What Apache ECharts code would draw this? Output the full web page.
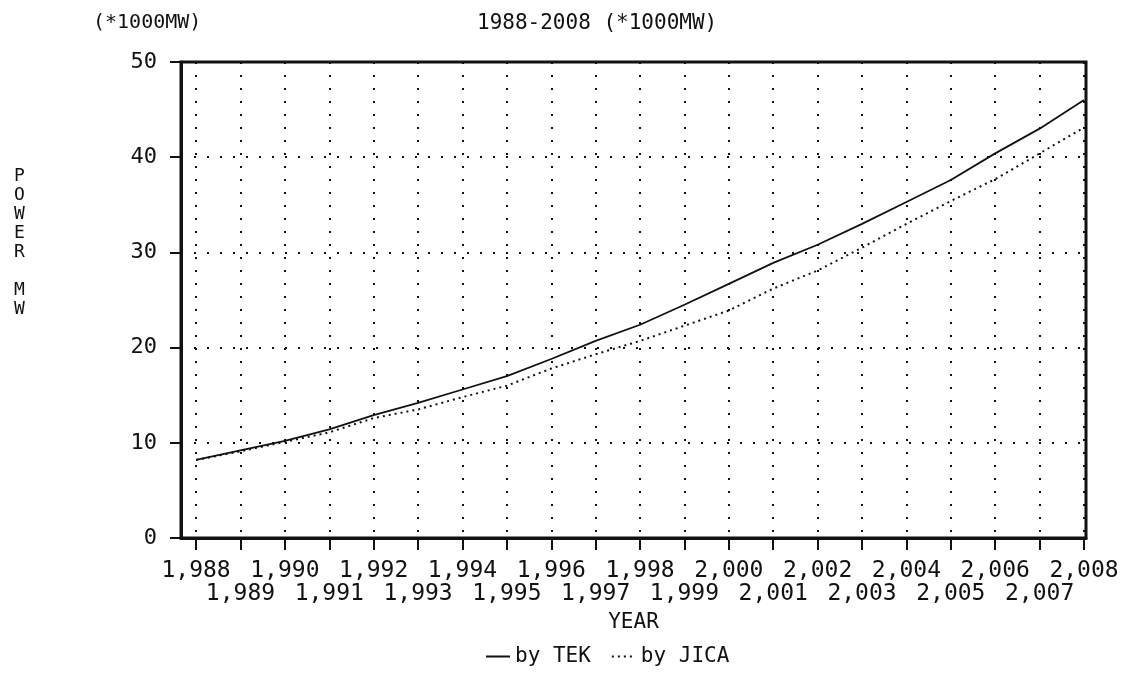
<!DOCTYPE html>
<html>
<head>
<meta charset="utf-8">
<script src="https://cdn.jsdelivr.net/npm/echarts@6/dist/echarts.min.js"></script>
<style>
  html, body { margin: 0; padding: 0; background: #fff; }
  #c { width: 1123px; height: 680px; }
</style>
</head>
<body>
<div id="c"></div>
<script>
// values (*1000MW)
const years = [1988, 1989, 1990, 1991, 1992, 1993, 1994, 1995, 1996, 1997, 1998,
  1999, 2000, 2001, 2002, 2003, 2004, 2005, 2006, 2007, 2008]
const tek = [8.2, 9.2, 10.2, 11.4, 12.9, 14.2, 15.6, 17.0, 18.8, 20.7, 22.4,
  24.5, 26.7, 28.9, 30.8, 33.0, 35.3, 37.6, 40.4, 43.0, 46.0]
const jica = [8.2, 9.1, 10.1, 11.1, 12.6, 13.5, 14.8, 16.0, 17.8, 19.3, 20.7,
  22.3, 23.9, 26.2, 28.1, 30.5, 33.0, 35.4, 37.7, 40.4, 43.1]
const yTicks = [0, 10, 20, 30, 40, 50]
// the x labels come in two rows: even years on top, odd years below
const evenYears = years.filter(y => y % 2 === 0)
const oddYears = years.filter(y => y % 2 === 1)

const font = 'DejaVu Sans Mono'
const ink = '#111'
const dotted = { color: ink, width: 2, type: [2, 11] }

const eIns = echarts.init(document.getElementById('c'))

function fmtYear(v) {
  const s = String(Math.round(v))
  return s.slice(0, 1) + ',' + s.slice(1)
}

function yearAxis(vals, margin, extra) {
  return {
    type: 'value',
    position: 'bottom',
    min: 1987.66,
    max: 2008.045,
    axisTick: { show: true, customValues: vals, length: 12, lineStyle: { color: ink, width: 2 } },
    axisLabel: {
      customValues: vals,
      showMinLabel: true,
      showMaxLabel: true,
      hideOverlap: false,
      fontFamily: font,
      fontSize: 23,
      color: ink,
      margin,
      formatter: fmtYear,
    },
    splitLine: { show: true, lineStyle: dotted },
    ...extra,
  }
}

const option = {
  backgroundColor: '#fff',
  animation: false,
  textStyle: { fontFamily: font, color: ink },
  title: [
    { text: '(*1000MW)', left: 88, top: 8, textStyle: { fontFamily: font, fontSize: 20, fontWeight: 'normal', color: ink } },
    { text: '1988-2008 (*1000MW)', left: 472, top: 8, textStyle: { fontFamily: font, fontSize: 21, fontWeight: 'normal', color: ink } },
    {
      text: 'P\nO\nW\nE\nR\n\nM\nW', left: 9, top: 162,
      textStyle: { fontFamily: font, fontSize: 18, fontWeight: 'normal', color: ink, lineHeight: 19 },
    },
  ],
  legend: {
    bottom: 8,
    left: 480,
    itemWidth: 24,
    itemHeight: 10,
    itemGap: 20,
    itemStyle: { color: 'rgba(0,0,0,0)', borderWidth: 0 },
    textStyle: { fontFamily: font, fontSize: 21, color: ink },
    data: ['by TEK', 'by JICA'],
  },
  grid: { left: 181, right: 37, top: 62, bottom: 142, show: true, borderColor: ink, borderWidth: 3 },
  xAxis: [
    yearAxis(evenYears, 22, {
      name: 'YEAR',
      nameLocation: 'middle',
      nameGap: 74,
      nameTextStyle: { fontFamily: font, fontSize: 21, color: ink },
      axisLine: { show: true, lineStyle: { color: ink, width: 3 } },
    }),
    yearAxis(oddYears, 45, { axisLine: { show: false } }),
  ],
  yAxis: {
    type: 'value',
    min: yTicks[0],
    max: yTicks[yTicks.length - 1],
    interval: 10,
    axisLine: { show: true, lineStyle: { color: ink, width: 3 } },
    axisTick: { show: true, length: 11, lineStyle: { color: ink, width: 2 } },
    axisLabel: { fontFamily: font, fontSize: 22, color: ink, margin: 24 },
    splitLine: { show: true, lineStyle: dotted },
  },
  series: [
    {
      name: 'by TEK',
      type: 'line',
      symbol: 'none',
      data: years.map((y, i) => [y, tek[i]]),
      lineStyle: { color: ink, width: 1.8, type: 'solid' },
      itemStyle: { color: ink },
    },
    {
      name: 'by JICA',
      type: 'line',
      symbol: 'none',
      data: years.map((y, i) => [y, jica[i]]),
      lineStyle: { color: ink, width: 2, type: [2, 4] },
      itemStyle: { color: ink },
    },
  ],
}

eIns.setOption(option)
</script>
</body>
</html>
